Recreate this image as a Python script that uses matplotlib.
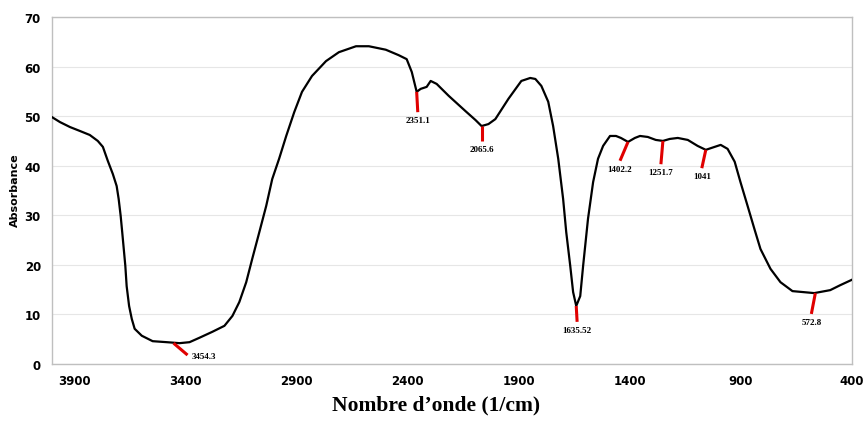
# FTIR spectrum: absorbance vs wavenumber with labelled peaks

import numpy as np
from matplotlib import pyplot as plt

# spectrum
wavenumber = [4000, 3964, 3919, 3874, 3830, 3794, 3771, 3749, 3726, 3709, 3700,
              3691, 3684, 3677, 3670, 3664, 3653, 3641, 3628, 3596, 3547, 3484,
              3426, 3381, 3336, 3278, 3224, 3188, 3157, 3126, 3099, 3067, 3036,
              3009, 2978, 2946, 2910, 2875, 2830, 2767, 2709, 2632, 2574, 2498,
              2440, 2404, 2381, 2359, 2341, 2314, 2296, 2269, 2215, 2139, 2094,
              2067, 2036, 2005, 1946, 1888, 1848, 1825, 1798, 1767, 1745, 1722,
              1700, 1686, 1668, 1655, 1641, 1623, 1610, 1588, 1565, 1543, 1520,
              1489, 1462, 1440, 1408, 1377, 1354, 1319, 1283, 1251, 1220, 1184,
              1139, 1095, 1058, 1018, 991, 960, 928, 902, 870, 839, 812, 767,
              722, 668, 570, 498, 453, 400]
absorbance = [49.8, 48.8, 47.8, 47.0, 46.2, 45.0, 43.8, 41.0, 38.3, 35.9, 33.3,
              29.9, 26.6, 23.2, 19.8, 15.7, 11.7, 9.1, 7.1, 5.7, 4.6, 4.4,
              4.2, 4.4, 5.3, 6.5, 7.7, 9.7, 12.5, 16.5, 21.2, 26.6, 31.9,
              37.3, 41.4, 46.0, 50.8, 54.9, 58.1, 61.1, 62.9, 64.1, 64.1, 63.4,
              62.3, 61.5, 58.9, 54.9, 55.5, 55.9, 57.1, 56.5, 54.1, 51.0, 49.2,
              48.0, 48.4, 49.4, 53.5, 57.1, 57.7, 57.5, 56.1, 52.9, 48.0, 41.4,
              33.3, 26.6, 19.8, 14.5, 11.7, 13.7, 19.8, 29.3, 36.7, 41.4, 44.0,
              46.0, 46.0, 45.6, 44.8, 45.6, 46.0, 45.8, 45.2, 45.0, 45.4, 45.6,
              45.2, 44.0, 43.2, 43.8, 44.2, 43.4, 40.8, 36.7, 31.9, 27.2, 23.2, 19.2,
              16.5, 14.7, 14.3, 14.9, 15.9, 17.0]

# peak markers: label, point on curve, end of the red tick
peak_labels = ['3454.3', '2351.1', '2065.6', '1635.52', '1402.2', '1251.7', '1041', '572.8']
peak_x = [3453, 2359, 2067, 1641, 1408, 1251, 1058, 565]
peak_y = [4.2, 54.9, 48.0, 11.7, 44.8, 45.0, 43.2, 14.3]
end_x = [3390, 2354, 2067, 1637, 1444, 1260, 1076, 583]
end_y = [1.8, 50.8, 45.0, 8.5, 41.0, 40.3, 39.5, 10.1]

xticks = [3900, 3400, 2900, 2400, 1900, 1400, 900, 400]
yticks = [0, 10, 20, 30, 40, 50, 60, 70]

fig = plt.figure(figsize=(8.65, 4.39), dpi=100)
ax = fig.add_axes([0.0601, 0.1686, 0.9249, 0.7904])

ax.plot(wavenumber, absorbance, color='k', lw=1.6, solid_joinstyle='round', zorder=3)

for i in range(len(peak_labels)):
    ax.plot([peak_x[i], end_x[i]], [peak_y[i], end_y[i]], color='#e00000', lw=2.2,
            solid_capstyle='butt', zorder=4)
    if i == 0:
        ax.annotate(peak_labels[i], (end_x[i], end_y[i]), xytext=(3, -1),
                    textcoords='offset points', ha='left', va='center',
                    fontsize=6.5, fontweight='bold', family='Liberation Serif')
    else:
        ax.annotate(peak_labels[i], (end_x[i], end_y[i]), xytext=(0, -3),
                    textcoords='offset points', ha='center', va='top',
                    fontsize=6.5, fontweight='bold', family='Liberation Serif')

ax.set_xlim(4000, 400)
ax.set_ylim(0, 70)
ax.set_xticks(xticks)
ax.set_yticks(yticks)
ax.tick_params(length=0, labelsize=8.5)
ax.tick_params(axis='y', pad=8)
ax.tick_params(axis='x', pad=7)
for lab in ax.get_xticklabels() + ax.get_yticklabels():
    lab.set_fontweight('bold')
ax.grid(axis='y', color='#e6e6e6', lw=0.8)
ax.set_axisbelow(True)
for s in ax.spines.values():
    s.set_color('#bfbfbf')
    s.set_linewidth(1.0)

fig.text(15 / 865, 1 - 190 / 439, 'Absorbance', rotation=90, ha='center', va='center',
         fontsize=8, fontweight='bold')
fig.text(436 / 865, 1 - 405 / 439, 'Nombre d\u2019onde (1/cm)', ha='center', va='center',
         fontsize=15.5, fontweight='bold', family='Liberation Serif')

plt.savefig('out.png', dpi=100)
